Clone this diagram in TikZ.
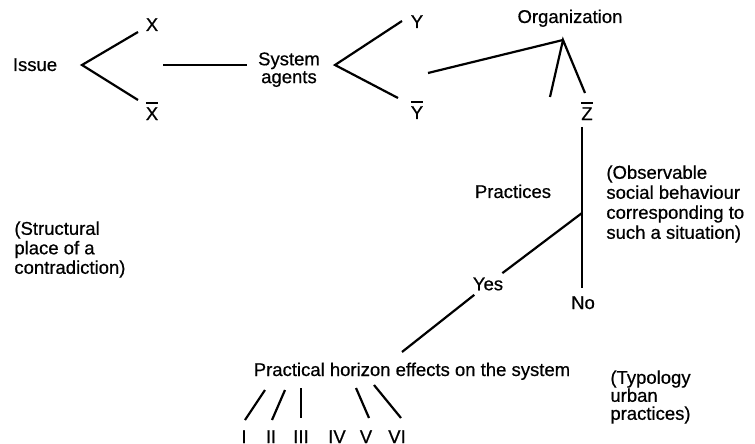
\documentclass[tikz,border=0pt]{standalone}
\usepackage{fontspec}
\setmainfont{Liberation Sans}[FakeBold=0.6]
\newcommand\ovl[1]{\leavevmode\vbox{\hrule height 1pt\kern 1.6pt\hbox{#1}}}
\begin{document}
\begin{tikzpicture}[x=0.5pt,y=-0.5pt,
  lbl/.style={inner sep=0pt, font=\fontsize{9.25}{10}\selectfont, anchor=base},
  note/.style={inner sep=0pt, anchor=north west, align=left},
  ln/.style={line width=1.1pt}]
\useasboundingbox (0,0) rectangle (755,444);

% top row labels
\node[lbl] (issue) at (35,71) {Issue};
\node[lbl] (X) at (152,31) {X};
\node[lbl] (Xb) at (152,120) {\ovl{X}};
\node[inner sep=0pt, anchor=north, align=center, font=\fontsize{9.25}{7}\selectfont] (sys) at (289,52) {System\\agents};
\node[lbl] (Y) at (417,28) {Y};
\node[lbl] (Yb) at (417,119) {\ovl{Y}};
\node[lbl] (org) at (570,23) {Organization};
\node[lbl] (Zb) at (587,120) {\ovl{Z}};

% coordinates of forks
\coordinate (iv) at (82,65);
\coordinate (iu) at (138,32);
\coordinate (id) at (138,100);
\coordinate (ha) at (163,65);
\coordinate (hb) at (247,65);
\coordinate (yv) at (335,65);
\coordinate (yu) at (402,21);
\coordinate (yd) at (398,98);
\coordinate (ya) at (428,73);
\coordinate (ov) at (563,40);
\coordinate (ol) at (550,97);
\coordinate (or) at (585,93);
\coordinate (vt) at (582,127);
\coordinate (vj) at (582,213);
\coordinate (vb) at (582,288);
\coordinate (ye) at (402,352);

\draw[ln] (iu) -- (iv) -- (id);
\draw[ln] (ha) -- (hb);
\draw[ln] (yu) -- (yv) -- (yd);
\draw[ln] (ya) -- (ov);
\draw[ln] (ol) -- (ov) -- (or);
\draw[ln] (vt) -- (vb);

\node[lbl] (prac) at (513,198) {Practices};
\node[lbl, anchor=center, fill=white, inner sep=2pt] (yes) at (488,284) {Yes};
\node[lbl] (no) at (583,309) {No};
\draw[ln] (vj) -- (yes) -- (ye);

\node[lbl] (phe) at (412,376) {Practical horizon effects on the system};

% practice legs
\coordinate (a1) at (265,390); \coordinate (b1) at (245,420);
\coordinate (a2) at (285,390); \coordinate (b2) at (272,420);
\coordinate (a3) at (301,388); \coordinate (b3) at (301,418);
\coordinate (a5) at (356,388); \coordinate (b5) at (369,418);
\coordinate (a6) at (374,385); \coordinate (b6) at (401,418);
\foreach \i in {1,2,3,5,6} \draw[ln] (a\i) -- (b\i);

\node[lbl] (n1) at (244,443) {I};
\node[lbl] (n2) at (271,443) {II};
\node[lbl] (n3) at (301,443) {III};
\node[lbl] (n4) at (337,443) {IV};
\node[lbl] (n5) at (366,443) {V};
\node[lbl] (n6) at (397,443) {VI};

% side notes
\node[note, font=\fontsize{9.25}{9.75}\selectfont] (struct) at (14,221) {(Structural\\place of a\\contradiction)};
\node[note, font=\fontsize{9.25}{10}\selectfont] (obs) at (606,165) {(Observable\\social behaviour\\corresponding to\\such a situation)};
\node[note, font=\fontsize{9.25}{9}\selectfont] (typ) at (610,370) {(Typology\\urban\\practices)};
\end{tikzpicture}
\end{document}
